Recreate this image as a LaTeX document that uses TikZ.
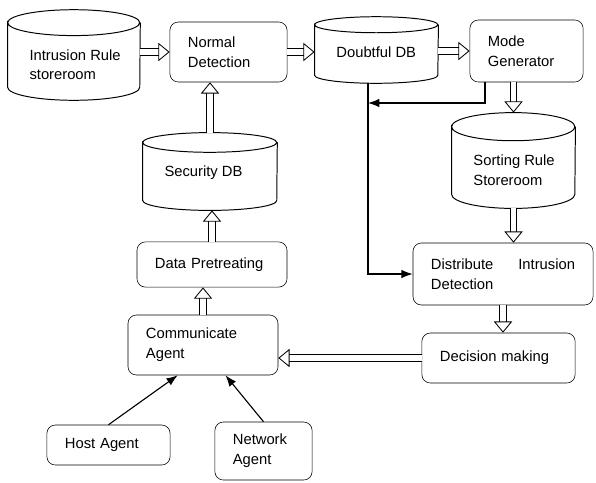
\documentclass[tikz,border=0pt]{standalone}
\usepackage{fontspec}
\setmainfont{Liberation Sans}
\usetikzlibrary{arrows.meta}
\tikzset{
  box/.style={draw,rounded corners=6pt,align=left,inner xsep=0.45cm},
  store/.style={inner sep=0pt},
  storetext/.style={anchor=west,align=left,xshift=12pt},
  flow/.style={double,double distance=4pt,line width=0.6pt,-{Triangle[open,length=8pt,width=13pt]}},
  arr/.style={line width=0.8pt,-{Latex[length=8pt,width=6pt]}}
}
% drum outline round a store node: name, half width, cap radius
\newcommand{\drum}[3]{%
  \draw[line width=0.7pt] ([yshift=-#3]#1.north west) arc[start angle=180,end angle=-180,x radius=#2,y radius=#3]
    -- ([yshift=#3]#1.south west) arc[start angle=180,end angle=360,x radius=#2,y radius=#3]
    -- ([yshift=-#3]#1.north east);}
\begin{document}
\begin{tikzpicture}[x=0.025cm,y=-0.025cm,font=\fontsize{10.5pt}{14pt}\selectfont]
\useasboundingbox (0,0) rectangle (596,482);
% stores
\node[store,minimum width=3.3cm,minimum height=2.25cm,
  label={[storetext,yshift=-7pt]west:Intrusion Rule\\storeroom}] (rule) at (74,55) {};
\node[store,minimum width=3.08cm,minimum height=1.65cm,
  label={[storetext,yshift=-1.5pt]west:Doubtful DB}] (doubt) at (376.5,50) {};
\node[store,minimum width=3.08cm,minimum height=2.38cm,
  label={[storetext,yshift=-7pt]west:Sorting Rule\\Storeroom}] (sort) at (513.5,160.5) {};
\node[store,minimum width=3.35cm,minimum height=1.93cm,
  label={[storetext,yshift=-1pt]west:Security DB}] (sec) at (210,171.5) {};
\drum{rule}{1.65cm}{9.2pt}
\drum{doubt}{1.54cm}{5.7pt}
\drum{sort}{1.54cm}{10pt}
\drum{sec}{1.675cm}{7pt}
% boxes
\node[box,minimum width=2.93cm,minimum height=1.5cm,text width=2.03cm] (normal) at (228.5,52) {Normal\\Detection};
\node[box,minimum width=2.83cm,minimum height=1.55cm,text width=1.93cm] (mode) at (526.5,51) {Mode\\Generator};
\node[box,minimum width=4.5cm,minimum height=1.55cm,text width=3.6cm] (dist) at (503,274) {Distribute\hfill Intrusion\\Detection};
\node[box,minimum width=3.83cm,minimum height=1.25cm,text width=2.93cm] (decision) at (498.5,358) {Decision making};
\node[box,minimum width=3.75cm,minimum height=1.5cm,text width=2.85cm] (comm) at (203,345) {Communicate\\Agent};
\node[box,minimum width=3.75cm,minimum height=1.13cm,text width=2.85cm] (pre) at (212,264.5) {Data Pretreating};
\node[box,minimum width=3.08cm,minimum height=1cm,text width=2.18cm] (host) at (108.5,445) {Host Agent};
\node[box,minimum width=2.43cm,minimum height=1.45cm,text width=1.53cm] (net) at (263.5,451) {Network\\Agent};
% wide arrows
\draw[flow] (rule.east |- normal) -- (normal.west);
\draw[flow] (normal.east) -- (normal.east -| doubt.west);
\draw[flow] (doubt.east |- mode) -- (mode.west);
\draw[flow] (sort.north |- mode.south) -- (sort.north);
\draw[flow] (sort.south) -- (sort.south |- dist.north);
\draw[flow] (dist.south) -- (dist.south |- decision.north);
\draw[flow] (decision.west) -- (comm.east |- decision.west);
\draw[flow] (comm.north) -- (comm.north |- pre.south);
\draw[flow] (pre.north) -- (pre.north |- sec.south);
\draw[flow] (sec.north) -- (sec.north |- normal.south);
% thin arrows
\coordinate (split) at (368,103);
\coordinate (bend) at (485,103);
\draw[line width=0.8pt] (doubt.south -| split) -- (split);
\draw[arr] (split) |- (dist.west);
\draw[arr] (mode.south -| bend) |- (split);
\draw[arr] (host.north) -- ([xshift=-18pt]comm.south);
\draw[arr] (net.north) -- ([xshift=16pt]comm.south);
\end{tikzpicture}
\end{document}
